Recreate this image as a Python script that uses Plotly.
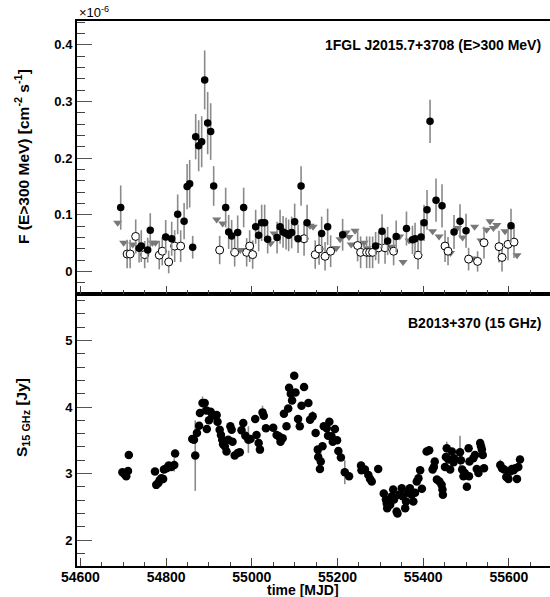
import plotly.graph_objects as go

# ---------------- data: top panel (flux in units of 1e-6 cm^-2 s^-1) ----------------
det_mjd = [54694, 54737, 54742, 54757, 54763, 54799, 54813, 54827, 54842, 54849, 54855, 54862,
           54869, 54876, 54883, 54890, 54897, 54904, 54911, 54939, 54946, 54953, 54967, 54981,
           55009, 55016, 55023, 55030, 55037, 55059, 55066, 55073, 55080, 55086, 55093, 55100,
           55108, 55115, 55129, 55163, 55177, 55212, 55289, 55304, 55317, 55337, 55361, 55375,
           55381, 55395, 55402, 55409, 55416, 55430, 55444, 55472, 55486, 55500, 55605]
det_flux = [0.113, 0.041, 0.045, 0.038, 0.073, 0.061, 0.058, 0.101, 0.089, 0.150, 0.155, 0.043,
            0.238, 0.222, 0.229, 0.338, 0.262, 0.247, 0.151, 0.113, 0.070, 0.063, 0.069, 0.113,
            0.079, 0.064, 0.086, 0.086, 0.057, 0.060, 0.079, 0.070, 0.067, 0.064, 0.069, 0.088,
            0.058, 0.151, 0.086, 0.067, 0.079, 0.065, 0.045, 0.071, 0.054, 0.062, 0.076, 0.056,
            0.058, 0.061, 0.086, 0.109, 0.265, 0.126, 0.116, 0.070, 0.089, 0.072, 0.081]
det_err = [0.039, 0.025, 0.028, 0.022, 0.030, 0.030, 0.030, 0.035, 0.032, 0.040, 0.042, 0.020,
           0.040, 0.045, 0.045, 0.052, 0.055, 0.050, 0.035, 0.035, 0.030, 0.028, 0.030, 0.035,
           0.030, 0.028, 0.032, 0.032, 0.025, 0.028, 0.030, 0.028, 0.028, 0.028, 0.028, 0.032,
           0.025, 0.035, 0.032, 0.030, 0.032, 0.028, 0.025, 0.030, 0.025, 0.028, 0.030, 0.025,
           0.028, 0.030, 0.032, 0.035, 0.038, 0.038, 0.038, 0.030, 0.030, 0.030, 0.030]

low_mjd = [54709, 54716, 54729, 54750, 54784, 54791, 54806, 54820, 54834, 54925, 54960, 54988,
           54995, 55002, 55122, 55148, 55157, 55171, 55184, 55247, 55254, 55268, 55275, 55282,
           55296, 55311, 55331, 55388, 55451, 55458, 55506, 55527, 55542, 55577, 55584, 55598, 55612]
low_flux = [0.031, 0.031, 0.062, 0.030, 0.029, 0.036, 0.017, 0.045, 0.045, 0.038, 0.034, 0.034,
            0.045, 0.030, 0.058, 0.030, 0.040, 0.027, 0.036, 0.046, 0.034, 0.034, 0.034, 0.034,
            0.042, 0.042, 0.036, 0.029, 0.045, 0.036, 0.022, 0.018, 0.051, 0.044, 0.025, 0.048, 0.052]
low_err = [0.025, 0.025, 0.030, 0.024, 0.025, 0.025, 0.020, 0.028, 0.028, 0.025, 0.025, 0.025,
           0.028, 0.025, 0.030, 0.025, 0.028, 0.025, 0.028, 0.028, 0.028, 0.028, 0.028, 0.028,
           0.028, 0.028, 0.025, 0.025, 0.028, 0.025, 0.020, 0.018, 0.028, 0.028, 0.025, 0.028, 0.028]

ul_mjd = [54687, 54701, 54722, 54768, 54775, 54918, 54932, 54973, 55044, 55052, 55136, 55143,
          55192, 55197, 55206, 55220, 55227, 55232, 55241, 55262, 55269, 55327, 55345, 55353,
          55367, 55422, 55437, 55464, 55480, 55492, 55514, 55520, 55535, 55548, 55556, 55564,
          55572, 55591, 55619]
ul_flux = [0.086, 0.051, 0.048, 0.051, 0.051, 0.092, 0.085, 0.038, 0.050, 0.067, 0.081, 0.079,
           0.041, 0.041, 0.057, 0.069, 0.061, 0.048, 0.072, 0.051, 0.041, 0.044, 0.062, 0.017,
           0.055, 0.071, 0.062, 0.033, 0.077, 0.060, 0.023, 0.079, 0.055, 0.074, 0.089, 0.077,
           0.082, 0.071, 0.029]

# ---------------- data: bottom panel (15 GHz flux density, Jy) ----------------
radio_mjd = [54698, 54703, 54707, 54711, 54713, 54774, 54777, 54782, 54785, 54789, 54793, 54795,
             54801, 54806, 54812, 54819, 54821, 54861, 54865, 54868, 54872, 54877, 54879, 54885,
             54890, 54894, 54895, 54900, 54904, 54908, 54914, 54918, 54920, 54925, 54928, 54931,
             54933, 54937, 54941, 54945, 54950, 54953, 54955, 54960, 54967, 54972, 54976, 54980,
             54985, 54992, 54997, 55008, 55011, 55016, 55019, 55025, 55028, 55033, 55050, 55058,
             55063, 55067, 55072, 55075, 55081, 55085, 55087, 55091, 55094, 55099, 55102, 55108,
             55112, 55116, 55122, 55132, 55136, 55142, 55149, 55154, 55155, 55159, 55161, 55165,
             55168, 55175, 55178, 55181, 55186, 55189, 55194, 55199, 55202, 55208, 55217, 55227,
             55255, 55256, 55264, 55272, 55276, 55280, 55295, 55308, 55313, 55315, 55316, 55323,
             55327, 55330, 55332, 55338, 55340, 55344, 55350, 55352, 55358, 55360, 55365, 55369,
             55373, 55377, 55381, 55385, 55389, 55393, 55397, 55408, 55414, 55422, 55425, 55427,
             55432, 55438, 55443, 55445, 55446, 55451, 55453, 55455, 55459, 55463, 55467, 55471,
             55472, 55486, 55488, 55491, 55494, 55497, 55502, 55506, 55508, 55507, 55517, 55521,
             55525, 55529, 55533, 55535, 55537, 55539, 55542, 55580, 55584, 55589, 55594, 55599,
             55603, 55607, 55611, 55615, 55619, 55622, 55626]
radio_s = [3.02, 2.99, 2.96, 3.04, 3.28, 3.03, 2.83, 2.86, 2.90, 2.93, 2.92, 3.06,
           3.08, 3.12, 3.10, 3.13, 3.30, 3.52, 3.51, 3.27, 3.61, 3.72, 3.91, 4.06,
           4.06, 3.95, 3.67, 3.80, 3.93, 3.88, 3.87, 3.88, 3.78, 3.66, 3.58, 3.51,
           3.44, 3.41, 3.33, 3.51, 3.71, 3.66, 3.48, 3.27, 3.31, 3.32, 3.65, 3.76,
           3.57, 3.51, 3.52, 3.82, 3.58, 3.46, 3.36, 3.92, 3.87, 3.68, 3.69, 3.58,
           3.56, 3.48, 3.53, 3.90, 3.71, 3.98, 4.29, 4.20, 4.10, 4.47, 4.22, 3.82,
           3.71, 4.02, 4.30, 4.06, 3.81, 3.86, 3.61, 3.36, 3.25, 3.07, 3.18, 3.41,
           3.71, 3.68, 3.57, 3.78, 3.56, 3.48, 3.67, 3.50, 3.34, 3.24, 3.02, 2.96,
           3.12, 3.05, 3.06, 2.98, 2.92, 2.88, 3.07, 2.70, 2.61, 2.55, 2.48, 2.53,
           2.66, 2.76, 2.61, 2.43, 2.40, 2.68, 2.78, 2.66, 2.48, 2.58, 2.71, 2.78,
           2.68, 2.58, 2.71, 2.88, 2.93, 3.05, 2.77, 3.33, 3.35, 3.06, 3.10, 3.18,
           2.91, 2.88, 2.83, 2.76, 2.68, 3.10, 3.25, 3.38, 3.21, 3.06, 3.33, 3.17,
           3.23, 3.32, 3.20, 3.06, 2.96, 3.01, 2.80, 3.38, 3.18, 2.96, 3.23, 3.28,
           3.07, 3.01, 3.46, 3.41, 3.36, 3.28, 3.08, 3.13, 3.08, 3.06, 2.95, 2.92,
           3.03, 3.07, 3.05, 3.08, 2.92, 3.10, 3.21]
radio_err = [0.04, 0.04, 0.04, 0.04, 0.06, 0.04, 0.04, 0.04, 0.04, 0.04, 0.04, 0.04,
             0.04, 0.04, 0.04, 0.10, 0.06, 0.05, 0.05, 0.53, 0.05, 0.05, 0.05, 0.10,
             0.05, 0.05, 0.05, 0.05, 0.05, 0.05, 0.05, 0.05, 0.05, 0.05, 0.05, 0.05,
             0.04, 0.04, 0.04, 0.04, 0.04, 0.04, 0.04, 0.04, 0.04, 0.04, 0.04, 0.04,
             0.04, 0.20, 0.04, 0.04, 0.04, 0.04, 0.04, 0.10, 0.04, 0.04, 0.04, 0.04,
             0.04, 0.04, 0.04, 0.04, 0.04, 0.04, 0.04, 0.04, 0.04, 0.05, 0.04, 0.04,
             0.04, 0.04, 0.04, 0.04, 0.04, 0.08, 0.04, 0.04, 0.04, 0.04, 0.15, 0.04,
             0.04, 0.04, 0.04, 0.04, 0.04, 0.04, 0.04, 0.04, 0.04, 0.04, 0.18, 0.04,
             0.04, 0.04, 0.04, 0.04, 0.04, 0.04, 0.04, 0.04, 0.04, 0.04, 0.04, 0.04,
             0.04, 0.04, 0.04, 0.04, 0.04, 0.04, 0.04, 0.04, 0.04, 0.04, 0.04, 0.04,
             0.04, 0.04, 0.04, 0.04, 0.04, 0.04, 0.04, 0.04, 0.04, 0.04, 0.10, 0.04,
             0.04, 0.04, 0.04, 0.04, 0.04, 0.04, 0.04, 0.10, 0.04, 0.04, 0.04, 0.04,
             0.04, 0.25, 0.04, 0.04, 0.04, 0.04, 0.04, 0.04, 0.04, 0.04, 0.04, 0.04,
             0.04, 0.04, 0.04, 0.04, 0.04, 0.04, 0.04, 0.08, 0.04, 0.04, 0.04, 0.04,
             0.04, 0.04, 0.04, 0.04, 0.04, 0.04, 0.04]

# ---------------- tick labels ----------------
x_tickvals = [54600, 54800, 55000, 55200, 55400, 55600]
x_ticktext = ["54600", "54800", "55000", "55200", "55400", "55600"]
top_tickvals = [0, 0.1, 0.2, 0.3, 0.4]
top_ticktext = ["0", "0.1", "0.2", "0.3", "0.4"]
bot_tickvals = [2, 3, 4, 5]
bot_ticktext = ["2", "3", "4", "5"]

# ---------------- figure ----------------
W, H = 550, 597
L, R, T, B = 77, 0, 21, 31
PW, PH = W - L - R, H - T - B
split_px = 294


def px(xp):
    return (xp - L) / PW


def py(yp):
    return (H - B - yp) / PH


split = py(split_px)
FONT = "Liberation Sans, Arial, Helvetica, sans-serif"
ERRC = "#8a8a8a"

fig = go.Figure()

# top panel traces
fig.add_trace(go.Scatter(
    x=ul_mjd, y=ul_flux, mode="markers", xaxis="x2", yaxis="y2",
    marker=dict(symbol="triangle-down", size=8, color="#787878", line=dict(width=0)),
    showlegend=False))
fig.add_trace(go.Scatter(
    x=low_mjd, y=low_flux, mode="markers", xaxis="x2", yaxis="y2",
    error_y=dict(type="data", array=low_err, color=ERRC, thickness=1.6, width=0),
    marker=dict(symbol="circle", size=8, color="white", line=dict(color="black", width=1)),
    showlegend=False))
fig.add_trace(go.Scatter(
    x=det_mjd, y=det_flux, mode="markers", xaxis="x2", yaxis="y2",
    error_y=dict(type="data", array=det_err, color=ERRC, thickness=1.6, width=0),
    marker=dict(symbol="circle", size=7.5, color="black", line=dict(width=0)),
    showlegend=False))

# bottom panel trace
fig.add_trace(go.Scatter(
    x=radio_mjd, y=radio_s, mode="markers", xaxis="x", yaxis="y",
    error_y=dict(type="data", array=radio_err, color=ERRC, thickness=1.6, width=0),
    marker=dict(symbol="circle", size=8.5, color="black", line=dict(width=0)),
    showlegend=False))

x_range = [54592, 55696]
tickfont = dict(family=FONT, size=14, color="black", weight="bold")
ytickfont = dict(family=FONT, size=13, color="black", weight="bold")

common_x = dict(
    range=x_range, showgrid=False, zeroline=False,
    showline=True, linecolor="black", linewidth=2, mirror=True,
    ticks="inside", ticklen=8, tickcolor="#444", tickwidth=1,
    tickmode="array", tickvals=x_tickvals,
    minor=dict(dtick=50, tick0=54600, ticks="inside", ticklen=4, tickcolor="#444", tickwidth=1),
)
common_y = dict(
    showgrid=False, zeroline=False, showline=True, linecolor="black", linewidth=2,
    ticks="inside", ticklen=15, tickcolor="#555", tickwidth=1, tickmode="array",
)

fig.update_layout(
    width=W, height=H,
    margin=dict(l=L, r=R, t=T, b=B, autoexpand=False),
    paper_bgcolor="white", plot_bgcolor="white",
    font=dict(family=FONT, color="black"),
    xaxis=dict(**common_x, anchor="y", domain=[0, 1], ticktext=x_ticktext,
               tickfont=tickfont, showticklabels=True),
    xaxis2=dict(**common_x, anchor="y2", domain=[0, 1], matches="x", showticklabels=False),
    yaxis=dict(**common_y, anchor="x", domain=[0, split], range=[1.61, 5.70],
               tickvals=bot_tickvals, ticktext=bot_ticktext, tickfont=ytickfont,
               minor=dict(dtick=0.2, tick0=0, ticks="inside", ticklen=8, tickcolor="#444", tickwidth=1)),
    yaxis2=dict(**common_y, anchor="x2", domain=[split, 1], range=[-0.0395, 0.442],
                tickvals=top_tickvals, ticktext=top_ticktext, tickfont=ytickfont,
                minor=dict(dtick=0.02, tick0=0, ticks="inside", ticklen=8, tickcolor="#444", tickwidth=1)),
)
try:
    fig.update_xaxes(ticklabelstandoff=-3, selector=dict(anchor="y"))
except Exception:
    pass

ann_font = dict(family=FONT, size=14, color="black", weight="bold")
ytitle_font = dict(family=FONT, size=15.5, color="black", weight="bold")
annotations = [
    dict(text="1FGL J2015.7+3708 (E>300 MeV)", x=px(543), y=py(45), xanchor="right", yanchor="middle",
         font=ann_font),
    dict(text="B2013+370 (15 GHz)", x=px(543), y=py(323), xanchor="right", yanchor="middle",
         font=ann_font),
    dict(text="F (E>300 MeV) [cm<sup>-2</sup> s<sup>-1</sup>]", x=px(22), y=py(157), textangle=-90,
         xanchor="center", yanchor="middle", font=ytitle_font),
    dict(text="S<sub>15 GHz</sub> [Jy]", x=px(22), y=py(418), textangle=-90,
         xanchor="center", yanchor="middle", font=ytitle_font),
    dict(text="time [MJD]", x=px(303), y=py(589.5), xanchor="center", yanchor="middle", font=ann_font),
    dict(text="\u00d710<sup>-6</sup>", x=px(77), y=py(12), xanchor="left", yanchor="middle",
         font=dict(family=FONT, size=13, color="black")),
]
for a in annotations:
    a.update(xref="paper", yref="paper", showarrow=False)
fig.update_layout(annotations=annotations)

fig.write_html("out.html", config={"displayModeBar": False},
               post_script="document.body.style.margin='0px';document.body.style.overflow='hidden';")
